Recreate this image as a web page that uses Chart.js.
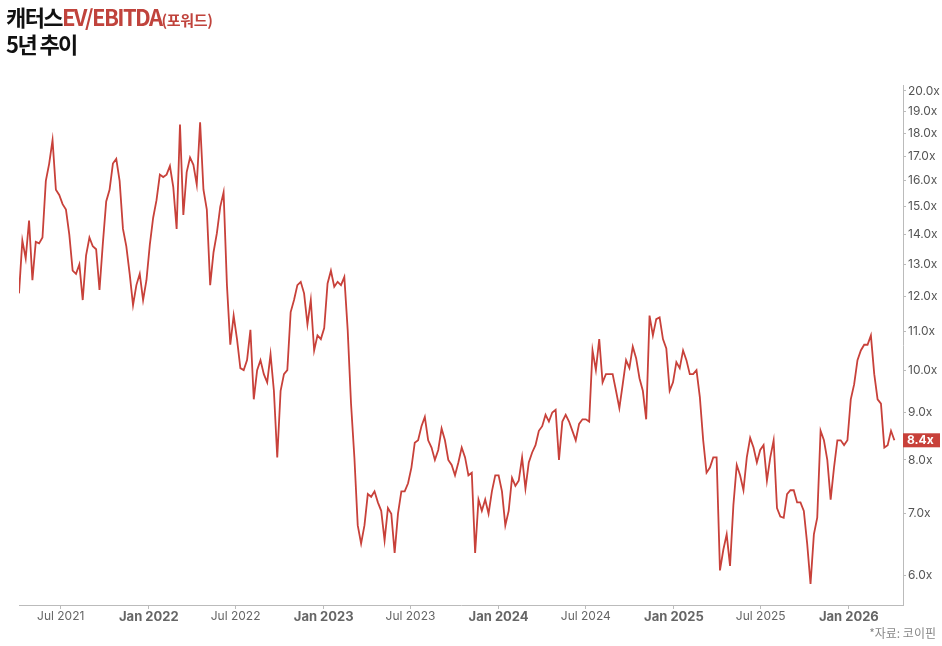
<!DOCTYPE html>
<html><head><meta charset="utf-8">
<script src="https://cdn.jsdelivr.net/npm/chart.js@4/dist/chart.umd.min.js"></script>
<style>
html,body{margin:0;padding:0;background:#fff;}
#wrap{position:relative;width:942px;height:646px;overflow:hidden;}
#c{position:absolute;left:0;top:0;}
.t{position:absolute;left:6px;font-family:"Noto Sans CJK KR","Noto Sans",sans-serif;font-weight:700;color:#111;letter-spacing:-1.6px;white-space:nowrap;}
#t1{top:0px;font-size:22px;}
#t2{top:27px;font-size:22px;}
.red{color:#c0433c;}
.sm{font-size:15px;letter-spacing:-0.3px;}
#src{position:absolute;right:6px;top:624px;font-family:"Noto Sans CJK KR",sans-serif;font-size:12px;color:#888;}
</style></head>
<body><div id="wrap">
<canvas id="c" width="942" height="646"></canvas>
<div class="t" id="t1">캐터스<span class="red">EV/EBITDA<span class="sm">(포워드)</span></span></div>
<div class="t" id="t2">5년 추이</div>
<div id="src">*자료: 코이핀</div>
</div>
<script>
const DAY = 86400000;
const startDate = Date.UTC(2021, 3, 5);
const axisEnd = Date.UTC(2026, 3, 24);
const tickDates = [Date.UTC(2021,6,1),Date.UTC(2022,0,1),Date.UTC(2022,6,1),Date.UTC(2023,0,1),Date.UTC(2023,6,1),Date.UTC(2024,0,1),Date.UTC(2024,6,1),Date.UTC(2025,0,1),Date.UTC(2025,6,1),Date.UTC(2026,0,1)];
const yTicks = [6,7,8,9,10,11,12,13,14,15,16,17,18,19,20];
const values = [
12.1,13.8,13.2,14.5,12.5,13.75,13.7,13.9,16.0,16.7,
17.7,15.65,15.45,15.1,14.9,14.0,12.8,12.7,13.0,11.9,
13.3,13.9,13.6,13.5,12.2,13.7,15.2,15.65,16.7,16.9,
16.0,14.2,13.6,12.7,11.75,12.35,12.7,11.9,12.5,13.65,
14.6,15.25,16.25,16.15,16.25,16.6,15.75,14.2,18.4,14.7,
16.35,16.95,16.65,15.85,18.5,15.65,14.9,12.35,13.4,14.05,
15.0,15.55,12.35,10.65,11.45,10.8,10.05,10.0,10.25,11.05,
9.3,10.0,10.25,9.9,9.7,10.4,9.5,8.05,9.5,9.9,
10.0,11.55,11.9,12.35,12.45,12.1,11.2,11.9,10.5,10.9,
10.8,11.1,12.4,12.8,12.3,12.45,12.35,12.6,11.05,9.2,
8.05,6.8,6.5,6.8,7.35,7.3,7.4,7.2,7.05,6.55,
7.1,7.0,6.35,7.0,7.4,7.4,7.55,7.85,8.35,8.4,
8.7,8.9,8.4,8.25,8.0,8.2,8.65,8.4,8.0,7.9,
7.7,7.95,8.25,8.05,7.7,7.75,6.35,7.25,7.05,7.25,
7.0,7.4,7.7,7.7,7.4,6.8,7.05,7.65,7.5,7.6,
8.05,7.45,7.95,8.15,8.3,8.6,8.7,8.95,8.8,9.0,
9.06,8.0,8.8,8.95,8.8,8.6,8.4,8.75,8.85,8.85,
8.8,10.5,10.0,10.8,9.7,9.9,9.9,9.9,9.5,9.1,
9.65,10.25,10.05,10.6,10.3,9.8,9.5,8.85,11.45,10.9,
11.35,11.4,10.8,10.55,9.5,9.7,10.2,10.05,10.5,10.25,
9.9,9.9,10.0,9.35,8.4,7.75,7.85,8.05,8.05,6.08,
6.4,6.65,6.15,7.15,7.9,7.7,7.42,8.05,8.45,8.25,
7.95,8.2,8.3,7.6,8.05,8.4,7.1,6.95,6.93,7.35,
7.42,7.42,7.2,7.2,7.05,6.5,5.88,6.65,6.93,8.6,
8.4,8.0,7.25,7.85,8.4,8.4,8.3,8.4,9.3,9.65,
10.25,10.5,10.65,10.65,10.9,9.9,9.3,9.2,8.25,8.3,
8.6,8.4
];
const dates = values.map((v, i) => startDate + i * 7 * DAY);
const MONTHS = ['Jan','Feb','Mar','Apr','May','Jun','Jul','Aug','Sep','Oct','Nov','Dec'];
const RED = '#c8413a';
const FAM = 'Inter, "Liberation Sans", sans-serif';

const lastLabel = {
  id: 'lastLabel',
  afterDraw(chart) {
    const ctx = chart.ctx;
    const ys = chart.scales.y;
    const v = values[values.length - 1];
    const y = ys.getPixelForValue(v);
    const x0 = chart.chartArea.right;
    ctx.save();
    ctx.fillStyle = RED;
    ctx.fillRect(x0, y - 7, 37, 14);
    ctx.fillStyle = '#fff';
    ctx.font = 'bold 12px ' + FAM;
    ctx.textBaseline = 'middle';
    ctx.textAlign = 'left';
    ctx.fillText(v.toFixed(1) + 'x', x0 + 4, y + 0.5);
    ctx.restore();
  }
};

new Chart(document.getElementById('c'), {
  type: 'line',
  data: {
    datasets: [{
      data: values.map((v, i) => ({x: dates[i], y: v})),
      borderColor: RED,
      borderWidth: 1.8,
      pointRadius: 0,
      tension: 0,
      fill: false
    }]
  },
  options: {
    responsive: false,
    animation: false,
    layout: {padding: {left: 19, top: 85, right: 0, bottom: 11}},
    plugins: {legend: {display: false}, tooltip: {enabled: false}, title: {display: false}},
    scales: {
      x: {
        type: 'linear',
        min: startDate,
        max: axisEnd,
        afterBuildTicks: s => { s.ticks = tickDates.map(v => ({value: v})); },
        afterFit: s => { s.height = 30; },
        ticks: {
          autoSkip: false,
          maxRotation: 0,
          padding: 0,
          color: '#666',
          font: ctx => {
            const isJan = ctx && ctx.tick && new Date(ctx.tick.value).getUTCMonth() === 0;
            return isJan
              ? {family: FAM, size: 13, weight: 'bold'}
              : {family: FAM, size: 12, weight: 'normal'};
          },
          callback: v => { const d = new Date(v); return MONTHS[d.getUTCMonth()] + ' ' + d.getUTCFullYear(); }
        },
        grid: {drawOnChartArea: false, drawTicks: true, tickLength: 4, color: '#bbb'},
        border: {display: true, color: '#bbb'}
      },
      y: {
        type: 'logarithmic',
        position: 'right',
        min: 5.58,
        max: 20.3,
        afterBuildTicks: s => { s.ticks = yTicks.map(v => ({value: v})); },
        afterFit: s => { s.width = 39; },
        ticks: {
          padding: 2,
          color: '#555',
          font: {family: FAM, size: 12},
          callback: v => Number(v).toFixed(1) + 'x'
        },
        grid: {drawOnChartArea: false, drawTicks: true, tickLength: 3, color: '#bbb'},
        border: {display: true, color: '#bbb'}
      }
    }
  },
  plugins: [lastLabel]
});
</script>
</body></html>
